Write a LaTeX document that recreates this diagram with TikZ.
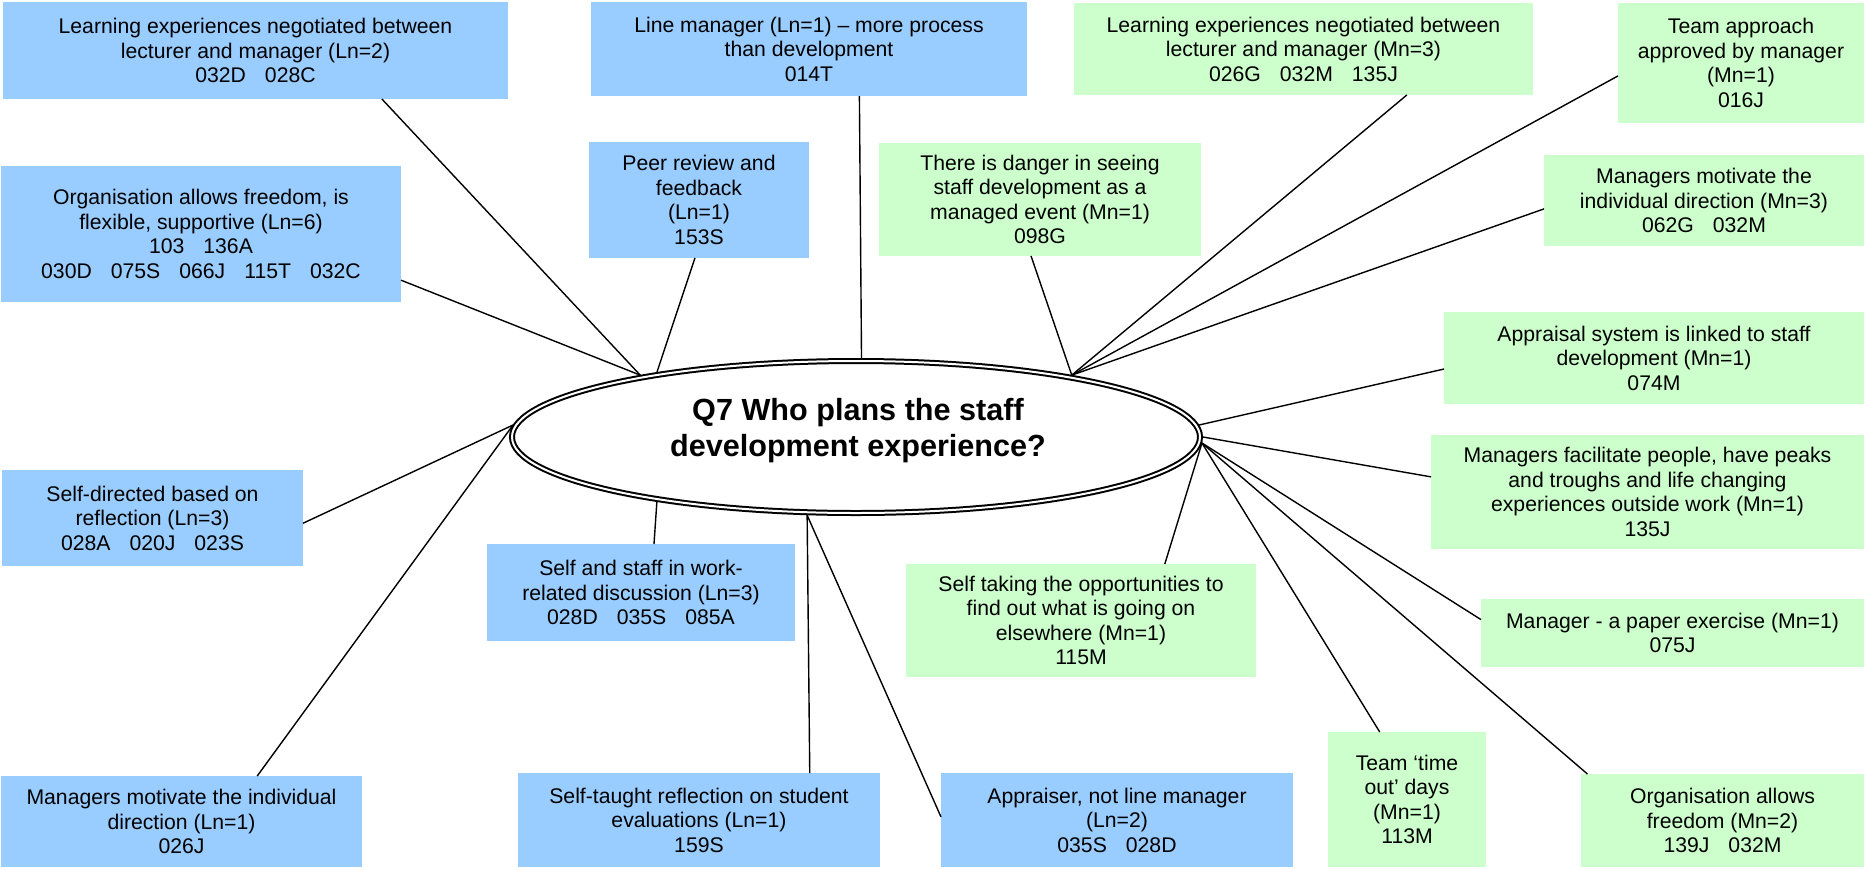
\documentclass[tikz,border=0pt]{standalone}
\usepackage{fontspec}
\setmainfont{Liberation Sans}
\usetikzlibrary{shapes.geometric}
\definecolor{lnblue}{RGB}{153,204,255}
\definecolor{mngreen}{RGB}{204,255,204}
% gap between the respondent codes on one line
\newcommand{\cg}{\hspace{9.5pt}}

\begin{document}
\begin{tikzpicture}[x=0.5pt,y=-0.5pt,
  card/.style={inner sep=0pt, outer sep=0pt, align=center,
    font=\fontsize{10.6pt}{12.25pt}\selectfont},
  lbox/.style={card, fill=lnblue},
  mbox/.style={card, fill=mngreen},
  sz/.style 2 args={minimum width=#1, minimum height=#2},
  spoke/.style={line width=0.7pt, black},
  hub/.style={ellipse, draw, double, line width=1pt, double distance=1pt,
    fill=white, minimum width=344pt, minimum height=76pt,
    inner sep=0pt, outer sep=1.5pt},
  hubtext/.style={align=center, font=\fontsize{15.3pt}{18pt}\selectfont\bfseries}
]
\useasboundingbox (0,0) rectangle (1865,869);

% central question
\node[hub] (title) at (856,437) {};
\node[hubtext] (qtext) at (858,431) {Q7 Who plans the staff\\development experience?};

% lecturer responses (blue)
\node[lbox, sz={252.5pt}{48.5pt}] (a) at (255.5,50.5)
  {Learning experiences negotiated between\\lecturer and manager (Ln=2)\\032D\cg 028C};
\node[lbox, sz={200pt}{68pt}] (b) at (201,234)
  {Organisation allows freedom, is\\flexible, supportive (Ln=6)\\103\cg 136A\\030D\cg 075S\cg 066J\cg 115T\cg 032C};
\node[lbox, sz={218pt}{47pt}] (c) at (809,49)
  {Line manager (Ln=1) -- more process\\than development\\014T};
\node[lbox, sz={110pt}{58pt}] (d) at (699,200)
  {Peer review and\\feedback\\(Ln=1)\\153S};
\node[lbox, sz={150.5pt}{48pt}] (p) at (152.5,518)
  {Self-directed based on\\reflection (Ln=3)\\028A\cg 020J\cg 023S};
\node[lbox, sz={154pt}{48.5pt}] (q) at (641,592.5)
  {Self and staff in work-\\related discussion (Ln=3)\\028D\cg 035S\cg 085A};
\node[lbox, sz={180.5pt}{45.5pt}] (r) at (181.5,821.5)
  {Managers motivate the individual\\direction (Ln=1)\\026J};
\node[lbox, sz={181pt}{47pt}] (s) at (699,820)
  {Self-taught reflection on student\\evaluations (Ln=1)\\159S};
\node[lbox, sz={176pt}{47pt}] (m) at (1117,820)
  {Appraiser, not line manager\\(Ln=2)\\035S\cg 028D};

% manager responses (green)
\node[mbox, sz={161pt}{56.5pt}] (e) at (1040,199.5)
  {There is danger in seeing\\staff development as a\\managed event (Mn=1)\\098G};
\node[mbox, sz={229.5pt}{46pt}] (f) at (1303.5,49)
  {Learning experiences negotiated between\\lecturer and manager (Mn=3)\\026G\cg 032M\cg 135J};
\node[mbox, sz={123pt}{60pt}] (g) at (1741,63)
  {Team approach\\approved by manager\\(Mn=1)\\016J};
\node[mbox, sz={160pt}{45.5pt}] (h) at (1704,200.5)
  {Managers motivate the\\individual direction (Mn=3)\\062G\cg 032M};
\node[mbox, sz={210pt}{46pt}] (i) at (1654,358)
  {Appraisal system is linked to staff\\development (Mn=1)\\074M};
\node[mbox, sz={216.5pt}{57pt}] (j) at (1647.5,492)
  {Managers facilitate people, have peaks\\and troughs and life changing\\experiences outside work (Mn=1)\\135J};
\node[mbox, sz={191.5pt}{34pt}] (k) at (1672.5,633)
  {Manager - a paper exercise (Mn=1)\\075J};
\node[mbox, sz={175pt}{56.5pt}] (l) at (1081,620.5)
  {Self taking the opportunities to\\find out what is going on\\elsewhere (Mn=1)\\115M};
\node[mbox, sz={79pt}{67.5pt}] (n) at (1407,799.5)
  {Team ‘time\\out’ days\\(Mn=1)\\113M};
\node[mbox, sz={141.5pt}{46.5pt}] (o) at (1722.5,820.5)
  {Organisation allows\\freedom (Mn=2)\\139J\cg 032M};

% spokes to the central question
\draw[spoke] (a.-21) -- (title.164);
\draw[spoke] (b.-13) -- (title.164);
\draw[spoke] (c.-43) -- (title.86);
\draw[spoke] (d.-94) -- (title.162);
\draw[spoke] (e.-99) -- (title.16);
\draw[spoke] (f.-24) -- (title.16);
\draw[spoke] (g.186) -- (title.16);
\draw[spoke] (h.183) -- (title.16);
\draw[spoke] (i.183) -- (title.2);
\draw[spoke] (j.176) -- (title.0);
\draw[spoke] (k.176) -- (title.-1);
\draw[spoke] (l.34) -- (title.-1);
\draw[spoke] (n.112) -- (title.-1);
\draw[spoke] (o.161) -- (title.-1);
\draw[spoke] (m.179) -- (title.238);
\draw[spoke] (s.23) -- (title.238);
\draw[spoke] (p.-2) -- (title.178);
\draw[spoke] (r.31) -- (title.178);
\draw[spoke] (q.75) -- (title.198);
\end{tikzpicture}
\end{document}
